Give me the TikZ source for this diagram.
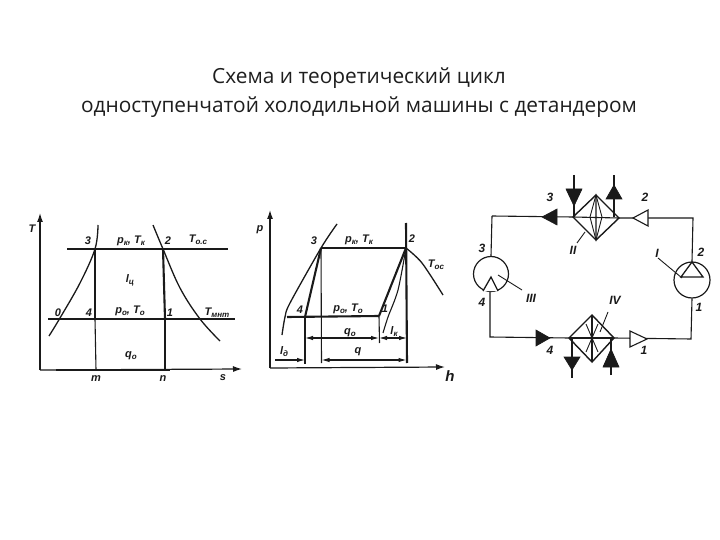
\documentclass[tikz,border=0pt]{standalone}
\usepackage{fontspec}
\usetikzlibrary{arrows.meta}
\setmainfont{Open Sans}
\newfontfamily\labelfont{Liberation Sans}
\definecolor{ink}{HTML}{1A1A1A}
\definecolor{titleink}{HTML}{1E1E1E}
\newcommand{\lsub}[1]{\raisebox{-2pt}{\fontsize{8}{8}\selectfont #1}}
\tikzset{
  x=1pt,y=-1pt,
  line/.style={draw=ink,line width=1.1pt},
  thin line/.style={draw=ink,line width=0.9pt},
  bold line/.style={draw=ink,line width=2.1pt},
  axis/.style={draw=ink,line width=1.2pt,-{Latex[length=9pt,width=6pt]}},
  dim/.style={draw=ink,line width=1.1pt,{Latex[length=8pt,width=4.5pt]}-{Latex[length=8pt,width=4.5pt]}},
  dimr/.style={draw=ink,line width=1.1pt,-{Latex[length=8pt,width=4.5pt]}},
  lab/.style={font=\labelfont\itshape\bfseries\fontsize{11}{11}\selectfont,text=ink,inner sep=0pt},
  slab/.style={font=\labelfont\itshape\bfseries\fontsize{12}{12}\selectfont,text=ink,inner sep=0pt},
  titletext/.style={font=\fontsize{20.85}{29}\selectfont,text=titleink,align=center,inner sep=0pt},
  filled tri/.style={fill=ink,draw=ink,line width=0.6pt,line join=miter},
  open tri/.style={fill=white,draw=ink,line width=1.1pt,line join=miter},
  machine/.style={draw=ink,line width=1.2pt,fill=white}
}
\begin{document}
\begin{tikzpicture}
\useasboundingbox (0,0) rectangle (720,540);
\fill[white] (0,0) rectangle (720,540);
\node[titletext] (title) at (359,92.5) {Схема и теоретический цикл\\одноступенчатой холодильной машины с детандером};

% ---------- T-s diagram
\coordinate (tO) at (40,370);
\coordinate (tT) at (40,213);
\coordinate (tS) at (242,369);
\coordinate (ts3) at (95,249);
\coordinate (ts2) at (163,249);
\coordinate (ts4) at (95,319);
\coordinate (ts1) at (165,319);
\coordinate (tm) at (96,370);
\coordinate (tn) at (165,370);
\draw[axis] (tO) -- (tT);
\draw[axis] (tO) -- (tS);
\draw[bold line] (56,370) -- (170,370);
\draw[line] (67,249) -- (ts3);
\draw[line] (ts2) -- (228,249);
\draw[line] (48,319) -- (ts4);
\draw[line] (ts1) -- (235,319);
\draw[bold line] (ts3) -- (ts2);
\draw[bold line] (ts4) -- (ts1);
\draw[bold line] (ts3) -- (ts4);
\draw[bold line] (ts2) -- (ts1);
\draw[line] (ts4) -- (tm);
\draw[line] (ts1) -- (tn);
\draw[line,line width=1.3pt] plot[smooth,tension=0.6] coordinates {(49,336) (60,318) (80,283) (95,249) (98,225)};
\draw[line,line width=1.3pt] plot[smooth,tension=0.6] coordinates {(153,225) (163,249) (180,288) (200,319) (220,341)};
\node[lab] (lT) at (32,229) {T};
\node[lab] (l3a) at (88,241) {3};
\node[lab] (l2a) at (168,241) {2};
\node[lab] (lpk) at (131,241) {p\lsub{к}, T\lsub{к}};
\node[lab] (lToc) at (198,240) {T\lsub{о.с}};
\node[lab] (llc) at (130,280) {l\lsub{ц}};
\node[lab] (l0a) at (58,313) {0};
\node[lab] (l4a) at (89,313) {4};
\node[lab] (l1a) at (170,313) {1};
\node[lab] (lp0) at (130,311) {p\lsub{о}, T\lsub{о}};
\node[lab] (lTmin) at (217,313) {T\lsub{мнт}};
\node[lab] (lq0) at (131,356) {q\lsub{о}};
\node[lab] (lm) at (96,379) {m};
\node[lab] (ln) at (163,379) {n};
\node[lab] (ls) at (223,378) {s};

% ---------- p-h diagram
\coordinate (pO) at (270,368);
\coordinate (pP) at (270,210);
\coordinate (pH) at (445,367);
\coordinate (ph3) at (321,248);
\coordinate (ph2) at (406,248);
\coordinate (ph4) at (305,317);
\coordinate (ph1) at (379,316);
\draw[axis] (pO) -- (pP);
\draw[axis] (pO) -- (pH);
\draw[bold line] (ph3) -- (ph2);
\draw[bold line] (406,223) -- (407,363);
\draw[line] (ph3) -- (321.5,363);
\draw[line,line width=1.3pt] plot[smooth,tension=0.5] coordinates {(337,224) (321,248) (290,303) (285,317) (282,335)};
\draw[bold line] (287,317) -- (ph1);
\draw[bold line] (ph3) -- (ph4);
\draw[line] (ph4) -- (305,364);
\draw[bold line] (ph2) -- (ph1);
\draw[line] (ph1) -- (379.5,343);
\draw[line] plot[smooth,tension=0.5] coordinates {(ph2) (398,290) (388,317) (383,333)};
\draw[line,line width=1.3pt] plot[smooth,tension=0.5] coordinates {(ph2) (422,263) (443,295)};
\coordinate (d4) at (305,338);
\coordinate (d1) at (379,338);
\coordinate (d2) at (407,338);
\coordinate (e0) at (275,360);
\coordinate (e4) at (305,360);
\coordinate (e3) at (321.5,360);
\coordinate (e2) at (406.5,360);
\draw[dim] (d4) -- (d1);
\draw[dim] (d1) -- (d2);
\draw[dimr] (e0) -- (e4);
\draw[dim] (e3) -- (e2);
\node[lab] (lp) at (260,230) {p};
\node[lab] (l3b) at (314,241) {3};
\node[lab] (l2b) at (412,239) {2};
\node[lab] (lpkb) at (359,240) {p\lsub{к}, T\lsub{к}};
\node[lab] (lToc2) at (436,265) {T\lsub{ос}};
\node[lab] (l4b) at (300,310) {4};
\node[lab] (l1b) at (385,309) {1};
\node[lab] (lp0b) at (348,309) {p\lsub{о}, T\lsub{о}};
\node[lab] (lq0b) at (350,333) {q\lsub{о}};
\node[lab] (llk) at (394,332) {l\lsub{к}};
\node[lab] (lld) at (284,352) {l\lsub{д}};
\node[lab] (lq) at (358,352) {q};
\node[lab,font=\labelfont\itshape\bfseries\fontsize{15}{15}\selectfont] (lh) at (450,376) {h};

% ---------- cycle scheme
\coordinate (cTL) at (492,216);
\coordinate (cTR) at (693,218);
\coordinate (cBL) at (490,337);
\coordinate (cBR) at (691,339);
\coordinate (IIl) at (573,217);
\coordinate (IIr) at (619,218);
\coordinate (IIt) at (596,195);
\coordinate (IIb) at (596,240);
\coordinate (IVl) at (569,338);
\coordinate (IVr) at (614,338);
\coordinate (IVt) at (592,315);
\coordinate (IVb) at (592,362);
\node[circle,machine,minimum size=35pt,inner sep=0pt] (III) at (491,274) {};
\node[circle,machine,minimum size=36pt,inner sep=0pt] (I) at (692,280) {};
\draw[line] (cTL) -- (IIl) (IIr) -- (cTR) -- (I.north);
\draw[line] (III.north) -- (cTL);
\draw[line] (490,292) -- (cBL) -- (IVl);
\draw[line] (IVr) -- (cBR) -- (I.south);
% diamonds
\draw[line,line width=1.4pt] (IIl) -- (IIt) -- (IIr) -- (IIb) -- cycle;
\draw[line] (IIl) -- (IIr) (IIt) -- (IIb);
\draw[thin line] (590,217) -- (IIt) -- (602,217);
\draw[thin line] (590,217) -- (IIb) -- (602,217);
\draw[line,line width=1.4pt] (IVl) -- (IVt) -- (IVr) -- (IVb) -- cycle;
\draw[line] (IVl) -- (IVr) (IVt) -- (IVb);
\draw[thin line] (586,324) -- (598,352) (598,324) -- (586,352);
% water lines
\coordinate (wa1) at (574,175); \coordinate (wa2) at (574,217);
\coordinate (wb1) at (614,217); \coordinate (wb2) at (614,175);
\coordinate (wc1) at (572,338); \coordinate (wc2) at (572,378);
\coordinate (wd1) at (611,375); \coordinate (wd2) at (611,338);
\draw[line] (wa1) -- (wa2);
\draw[line] (wb1) -- (wb2);
\draw[line] (wc1) -- (wc2);
\draw[line] (wd1) -- (wd2);
\draw[filled tri] (566,189) -- (582,189) -- (574,206) -- cycle;
\draw[filled tri] (606,199) -- (622,199) -- (614,185) -- cycle;
\draw[filled tri] (564,357) -- (580,357) -- (572,370) -- cycle;
\draw[filled tri] (603,367) -- (619,367) -- (611,349) -- cycle;
% flow arrows
\draw[filled tri] (557,209) -- (557,225) -- (542,217) -- cycle;
\draw[open tri] (648,210) -- (648,226) -- (633,218) -- cycle;
\draw[filled tri] (536,330) -- (536,346) -- (550,338) -- cycle;
\draw[open tri] (630,331) -- (630,347) -- (647,339) -- cycle;
% machine triangles
\draw[open tri,line width=1.3pt] (483,291) -- (491,277) -- (498,291);
\draw[open tri,line width=1.3pt] (681,277) -- (692,262) -- (703,277) -- cycle;
% leaders and labels
\node[slab] (nI) at (657,253) {I};
\node[slab] (nII) at (573,250) {II};
\node[slab] (nIII) at (531,298) {III};
\node[slab] (nIV) at (615,300) {IV};
\coordinate (cI) at (682,278);
\coordinate (cII) at (585,232);
\coordinate (cIII) at (498,275);
\coordinate (cIV) at (600,332);
\draw[thin line] (nI) ++(1,5) -- (cI);
\draw[thin line] (nII) ++(4,-7) -- (cII);
\draw[thin line] (nIII) ++(-9,-8) -- (cIII);
\draw[thin line] (nIV) ++(-7,12) -- (cIV);
\node[slab] (s3a) at (550,197) {3};
\node[slab] (s2a) at (645,197) {2};
\node[slab] (s3b) at (482,248) {3};
\node[slab] (s4a) at (482,302) {4};
\node[slab] (s2b) at (701,252) {2};
\node[slab] (s1a) at (699,307) {1};
\node[slab] (s4b) at (550,350) {4};
\node[slab] (s1b) at (644,350) {1};
\end{tikzpicture}
\end{document}
